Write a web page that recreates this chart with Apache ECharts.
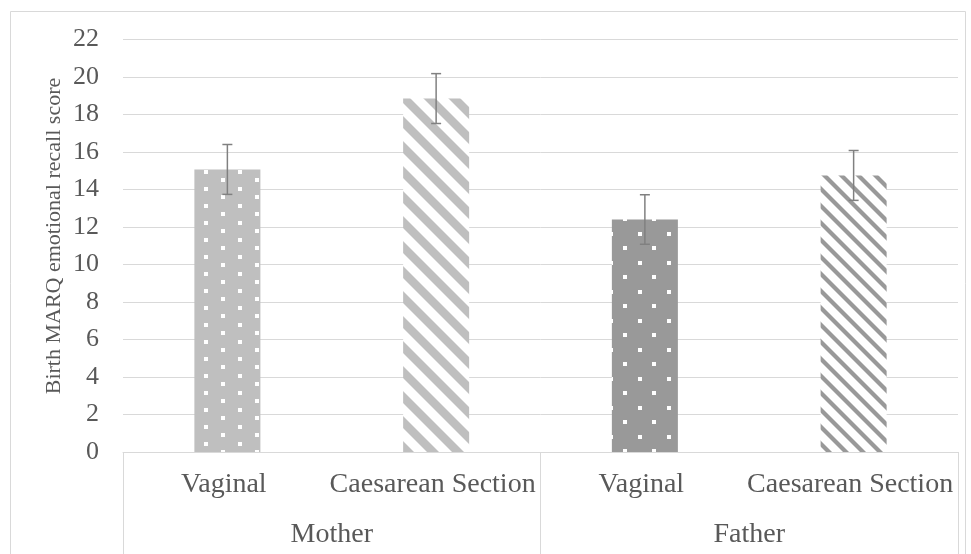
<!DOCTYPE html>
<html>
<head>
<meta charset="utf-8">
<script src="https://cdn.jsdelivr.net/npm/echarts@6/dist/echarts.min.js"></script>
<style>
html,body{margin:0;padding:0;background:#fff;}
#chart{width:971px;height:554px;}
</style>
</head>
<body>
<div id="chart"></div>
<script>
const subCategories = ['Vaginal', 'Caesarean Section', 'Vaginal', 'Caesarean Section'];
const groupCategories = ['Mother', 'Father'];
const meanScores = [15.07, 18.85, 12.4, 14.75];
const errorMargins = [1.33, 1.33, 1.32, 1.33];
const yTicks = { min: 0, max: 22, interval: 2 };
const yTitle = 'Birth MARQ emotional recall score';

function dotTile(w, h, bg, pts, size) {
  const c = document.createElement('canvas');
  c.width = w; c.height = h;
  const ctx = c.getContext('2d');
  ctx.fillStyle = bg; ctx.fillRect(0, 0, w, h);
  ctx.fillStyle = '#ffffff';
  pts.forEach(p => ctx.fillRect(p[0], p[1], size, size));
  return { image: c, repeat: 'repeat' };
}
function stripeTile(P, w, fg) {
  const c = document.createElement('canvas');
  c.width = P; c.height = P;
  const ctx = c.getContext('2d');
  ctx.fillStyle = '#ffffff'; ctx.fillRect(0, 0, P, P);
  ctx.fillStyle = fg;
  for (let k = -1; k <= 1; k++) {
    ctx.beginPath();
    ctx.moveTo(k * P, 0);
    ctx.lineTo(k * P + w, 0);
    ctx.lineTo(k * P + w + P, P);
    ctx.lineTo(k * P + P, P);
    ctx.closePath();
    ctx.fill();
  }
  return { image: c, repeat: 'repeat' };
}

const patterns = [
  dotTile(34, 17, '#bfbfbf', [[0, 0], [17, 8]], 4),
  stripeTile(25, 12, '#bfbfbf'),
  dotTile(29, 29, '#999999', [[0, 0], [14, 14]], 4),
  stripeTile(17, 6, '#999999')
];

const chart = echarts.init(document.getElementById('chart'), null, { renderer: 'canvas' });
const fontFam = '"Liberation Serif", "Times New Roman", serif';
const txt = '#595959';
const lineCol = '#d9d9d9';

const option = {
  animation: false,
  backgroundColor: '#ffffff',
  textStyle: { fontFamily: fontFam },
  graphic: [{
    type: 'rect', silent: true, z: -1,
    shape: { x: 10.5, y: 11.5, width: 955, height: 620 },
    style: { fill: 'none', stroke: lineCol, lineWidth: 1 }
  }, {
    type: 'text', silent: true,
    x: 54, y: 236, rotation: Math.PI / 2,
    style: {
      text: yTitle, fill: txt, fontSize: 22, fontFamily: fontFam,
      align: 'center', verticalAlign: 'middle'
    }
  }],
  grid: { left: 123, right: 13, top: 39.5, bottom: 102, containLabel: false },
  xAxis: [{
    type: 'category',
    data: subCategories,
    position: 'bottom',
    axisLine: { show: true, lineStyle: { color: lineCol, width: 1 } },
    axisTick: { show: false },
    axisLabel: { interval: 0, color: txt, fontSize: 28, fontFamily: fontFam, margin: 19, padding: [0, 7, 0, 0] }
  }, {
    type: 'category',
    data: groupCategories,
    position: 'bottom',
    axisLine: { show: false },
    axisTick: { show: true, length: 110, interval: 0, lineStyle: { color: lineCol, width: 1 } },
    axisLabel: { interval: 0, color: txt, fontSize: 28, fontFamily: fontFam, margin: 69 }
  }],
  yAxis: {
    type: 'value',
    min: yTicks.min, max: yTicks.max, interval: yTicks.interval,
    axisLine: { show: false },
    axisTick: { show: false },
    axisLabel: { color: txt, fontSize: 26, fontFamily: fontFam, margin: 24 },
    splitLine: { lineStyle: { color: lineCol, width: 1 } }
  },
  series: [{
    type: 'bar',
    xAxisIndex: 0,
    barWidth: 66,
    data: meanScores.map((v, i) => ({ value: v, itemStyle: { color: patterns[i] } })),
    z: 2
  }, {
    type: 'custom',
    xAxisIndex: 0,
    z: 3,
    data: meanScores.map((v, i) => [i, v - errorMargins[i], v + errorMargins[i]]),
    encode: { x: 0, y: [1, 2] },
    renderItem: function (params, api) {
      const lo = api.coord([api.value(0), api.value(1)]);
      const hi = api.coord([api.value(0), api.value(2)]);
      const half = 5;
      const st = { stroke: '#808080', lineWidth: 1.5 };
      return {
        type: 'group',
        children: [
          { type: 'line', shape: { x1: hi[0], y1: hi[1], x2: lo[0], y2: lo[1] }, style: st },
          { type: 'line', shape: { x1: hi[0] - half, y1: hi[1], x2: hi[0] + half, y2: hi[1] }, style: st },
          { type: 'line', shape: { x1: lo[0] - half, y1: lo[1], x2: lo[0] + half, y2: lo[1] }, style: st }
        ]
      };
    }
  }]
};
chart.setOption(option);
</script>
</body>
</html>
